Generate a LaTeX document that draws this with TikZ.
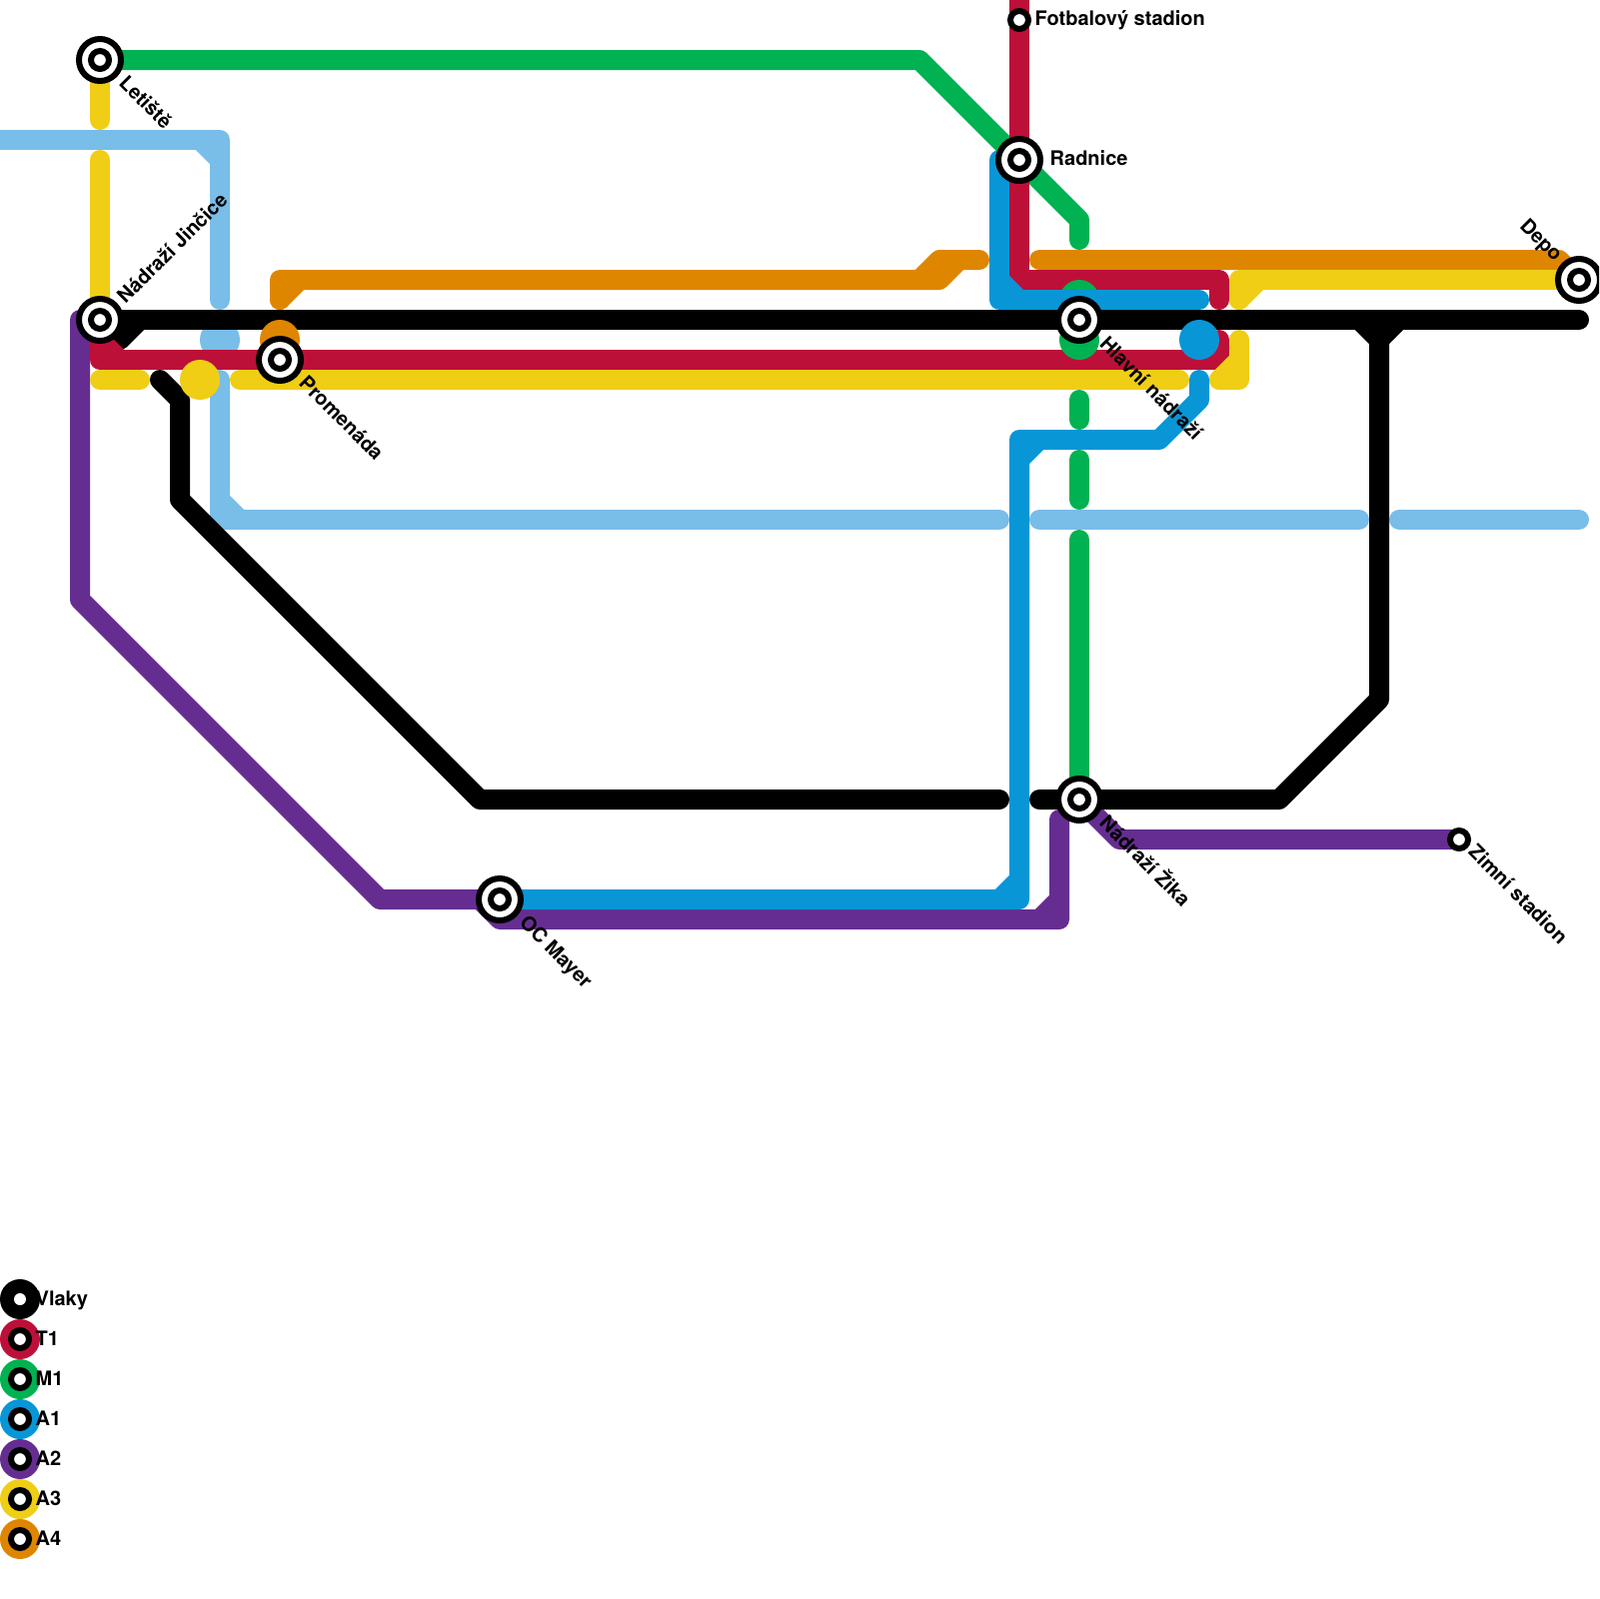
\documentclass[tikz,border=0pt]{standalone}
\usepackage{fontspec}
\setmainfont{TeX Gyre Heros}
\usepackage{xcolor}
\usetikzlibrary{calc}
\definecolor{lineT}{HTML}{BD1038}
\definecolor{lineM}{HTML}{00B251}
\definecolor{lineA}{HTML}{0896D7}
\definecolor{lineB}{HTML}{662D91}
\definecolor{lineC}{HTML}{F0CE15}
\definecolor{lineD}{HTML}{DF8600}
\definecolor{lineS}{HTML}{79BDE9}
\tikzset{
    metromap/.style={x=0.1mm, y=-0.1mm, font=\fontsize{5.69pt}{6pt}\selectfont\bfseries},
    track/.style={line width=2mm, line cap=round, line join=round},
    stub/.style={circle, fill, inner sep=0pt, minimum size=4mm},
    hub/.style={circle, draw=black, fill=white, line width=0.6mm, inner sep=0pt, minimum size=4.2mm},
    halt/.style={circle, draw=black, fill=white, line width=0.6mm, inner sep=0pt, minimum size=1.8mm},
    disc/.style={circle, inner sep=0pt, minimum size=4mm},
    down/.style={rotate=-45, anchor=west, inner sep=0pt},
    up/.style={rotate=45, anchor=west, inner sep=0pt},
    flat/.style={anchor=base west, inner sep=0pt},
    key/.style={anchor=base west, inner sep=0pt},
}
\begin{document}
\begin{tikzpicture}[metromap]
        \useasboundingbox (0,0) rectangle (1600,1600);
        \clip (0,0) rectangle (1600,1600);

        \coordinate (letiste)  at (100,60);
        \coordinate (jincice)  at (100,320);
        \coordinate (promenada) at (280,360);
        \coordinate (mayer)    at (500,900);
        \coordinate (radnice)  at (1020,160);
        \coordinate (hlavni)   at (1080,320);
        \coordinate (zika)     at (1080,800);
        \coordinate (depo)     at (1580,280);
        \coordinate (fotbal)   at (1020,20);
        \coordinate (zimni)    at (1460,840);

        % sky blue
        \draw[track, lineS] (0,140) -- (220,140) -- (220,300);
        \draw[track, lineS] (200,140) -- (220,160);
        \node[stub, lineS] (skystub) at (220,340) {};
        \draw[track, lineS] (220,380) -- (220,520) -- (1000,520);
        \draw[track, lineS] (220,500) -- (240,520);
        \draw[track, lineS] (1040,520) -- (1360,520);
        \draw[track, lineS] (1400,520) -- (1580,520);

        % green
        \draw[track, lineM] (letiste) -- (920,60) -- (1080,220) -- (1080,240);
        \draw[track, lineM] (1080,400) -- (1080,420);
        \draw[track, lineM] (1080,460) -- (1080,500);
        \draw[track, lineM] (1080,540) -- (zika);

        % purple
        \draw[track, lineB] (jincice) -- (80,320) -- (80,600) -- (380,900) -- (mayer);
        \draw[track, lineB] (480,900) -- (500,920) -- (1060,920) -- (1060,820);
        \draw[track, lineB] (1040,920) -- (1060,900);
        \draw[track, lineB] (zika) -- (1120,840) -- (zimni);

        % black
        \draw[track, black] (jincice) -- (1580,320);
        \draw[track, black] (120,340) -- (140,320);
        \draw[track, black] (1360,320) -- (1380,340) -- (1400,320);
        \draw[track, black] (1380,320) -- (1380,700) -- (1280,800) -- (1040,800);
        \draw[track, black] (160,380) -- (180,400) -- (180,500) -- (480,800) -- (1000,800);

        % orange
        \node[stub, lineD] (orangestub) at (280,340) {};
        \draw[track, lineD] (280,300) -- (280,280) -- (940,280) -- (960,260) -- (980,260);
        \draw[track, lineD] (280,300) -- (300,280);
        \draw[track, lineD] (920,280) -- (940,260) -- (960,260);
        \draw[track, lineD] (1040,260) -- (1560,260) -- (depo);

        % red
        \draw[track, lineT] (1020,0) -- (1020,280) -- (1220,280) -- (1220,300);
        \draw[track, lineT] (jincice) -- (100,360) -- (1220,360) -- (1220,340);
        \draw[track, lineT] (100,340) -- (120,360);

        % green stubs at the main station
        \node[stub, lineM] (greentop) at (1080,300) {};
        \node[stub, lineM] (greenbot) at (1080,340) {};

        % yellow
        \draw[track, lineC] (letiste) -- (100,120);
        \draw[track, lineC] (100,160) -- (jincice);
        \draw[track, lineC] (100,380) -- (140,380);
        \node[stub, lineC] (yellowstub) at (200,380) {};
        \draw[track, lineC] (240,380) -- (1180,380);
        \draw[track, lineC] (1220,380) -- (1240,380) -- (1240,340);
        \draw[track, lineC] (1220,380) -- (1240,360);
        \draw[track, lineC] (1240,300) -- (1240,280) -- (depo);
        \draw[track, lineC] (1240,300) -- (1260,280);

        % blue
        \draw[track, lineA] (1000,160) -- (1000,300) -- (1200,300);
        \draw[track, lineA] (1000,280) -- (1020,300);
        \node[stub, lineA] (bluestub) at (1200,340) {};
        \draw[track, lineA] (1200,380) -- (1200,400) -- (1160,440) -- (1020,440) -- (1020,900) -- (mayer);
        \draw[track, lineA] (1020,460) -- (1040,440);
        \draw[track, lineA] (1000,900) -- (1020,880);

        % stations
        \foreach \st in {letiste, jincice, promenada, mayer, radnice, hlavni, zika, depo} {
            \node[hub]  (\st-ring) at (\st) {};
            \node[halt] (\st-core) at (\st) {};
        }
        \node[halt] (fotbal-core) at (fotbal) {};
        \node[halt] (zimni-core)  at (zimni) {};

        % station names
        \node[down] (letiste-name)   at ($(letiste)+(23,19)$)   {Letiště};
        \node[up]   (jincice-name)   at ($(jincice)+(20,-20)$)  {Nádraží Jinčice};
        \node[down] (promenada-name) at ($(promenada)+(23,19)$) {Promenáda};
        \node[down] (mayer-name)     at ($(mayer)+(22,20)$)     {OC Mayer};
        \node[down] (hlavni-name)    at ($(hlavni)+(24,20)$)    {Hlavní nádraží};
        \node[down] (zika-name)      at ($(zika)+(25,18)$)      {Nádraží Žika};
        \node[down] (zimni-name)     at ($(zimni)+(13,8)$)      {Zimní stadion};
        \node[down] (depo-name)      at ($(depo)+(-57,-57)$)    {Depo};
        \node[flat] (radnice-name)   at ($(radnice)+(30,5)$)    {Radnice};
        \node[flat] (fotbal-name)    at ($(fotbal)+(15,5)$)     {Fotbalový stadion};

        % legend
        \node[disc, fill=black] (key-vlaky) at (20,1300) {};
        \node[disc, fill=white, minimum size=1.2mm] (key-vlaky-core) at (key-vlaky) {};
        \node[key] (key-vlaky-name) at (35,1306) {Vlaky};
        \foreach \yy/\col/\nm in {1340/lineT/T1, 1380/lineM/M1, 1420/lineA/A1, 1460/lineB/A2, 1500/lineC/A3, 1540/lineD/A4} {
            \node[disc, fill=\col] (key-\nm) at (20,\yy) {};
            \node[halt] (key-\nm-core) at (key-\nm) {};
            \node[key] (key-\nm-name) at (35,\yy+6) {\nm};
        }
    \end{tikzpicture}
\end{document}
